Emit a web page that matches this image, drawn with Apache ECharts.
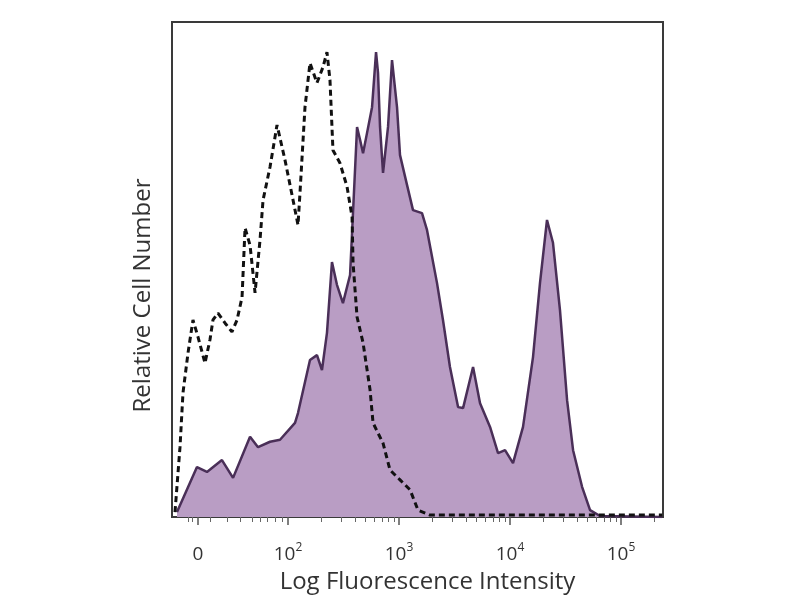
<!DOCTYPE html>
<html>
<head>
<meta charset="utf-8">
<script src="https://cdn.jsdelivr.net/npm/echarts@6/dist/echarts.min.js"></script>
<style>html,body{margin:0;padding:0;background:#fff}#c{width:800px;height:600px}</style>
</head>
<body>
<div id="c"></div>
<script>
// x in display decades (biexponential axis: 0 shown near 1.19, 10^n at n)
const stainedX = [1.000,1.180,1.270,1.405,1.505,1.658,1.730,1.838,1.928,2.063,2.090,2.198,2.261,2.306,2.351,2.396,2.441,2.495,2.559,2.622,2.649,2.676,2.712,2.757,2.793,2.811,2.829,2.856,2.901,2.937,2.982,3.009,3.072,3.126,3.207,3.252,3.342,3.396,3.459,3.532,3.577,3.667,3.730,3.820,3.892,3.955,4.027,4.117,4.207,4.270,4.333,4.387,4.450,4.514,4.568,4.649,4.721,4.811,5.370];
const stainedY = [1.0,10.1,9.1,11.5,7.9,16.2,14.1,15.2,15.6,19.0,21.0,31.7,32.7,29.7,37.2,51.5,46.9,43.2,48.9,78.8,76.2,73.5,77.6,82.8,93.9,89.7,78.8,69.5,78.8,92.3,82.8,73.1,67.1,62.0,61.4,58.0,47.3,39.8,30.3,22.2,22.0,30.3,23.0,18.2,12.9,13.5,10.9,18.2,32.3,47.3,60.0,55.4,41.8,23.6,13.5,6.1,1.4,0.2,0.0];
const controlX = [0.982,1.027,1.054,1.099,1.144,1.189,1.252,1.297,1.324,1.369,1.432,1.495,1.541,1.586,1.613,1.658,1.703,1.748,1.775,1.838,1.901,1.973,2.018,2.090,2.108,2.153,2.198,2.261,2.315,2.351,2.378,2.405,2.468,2.532,2.577,2.586,2.622,2.676,2.739,2.766,2.856,2.919,3.009,3.099,3.171,3.279,5.370];
const controlY = [1.0,14.1,25.1,33.1,39.8,36.4,31.1,35.8,39.8,41.2,39.2,37.4,39.8,44.4,58.4,54.9,45.3,56.0,64.0,70.7,79.2,72.1,67.1,59.0,65.5,82.8,91.7,87.7,90.9,93.9,88.3,74.1,71.5,66.7,60.6,51.3,40.4,35.2,25.7,19.0,14.9,9.5,7.5,5.5,1.4,0.4,0.4];
const majorTicks = [1.189, 2, 3, 4, 5];
const majorLabels = ['0', '10|2', '10|3', '10|4', '10|5'];
const minorTicks = [1.10,1.14,1.297,1.450,1.568,1.676,1.748,1.811,1.883,1.946,
  2.301,2.477,2.602,2.699,2.778,2.845,2.903,2.954,
  3.301,3.477,3.602,3.699,3.778,3.845,3.903,3.954,
  4.301,4.477,4.602,4.699,4.778,4.845,4.903,4.954,5.301];

const pair = (xs, ys) => xs.map((x, i) => [x, ys[i]]);
const chart = echarts.init(document.getElementById('c'));
const FONT = '"Open Sans", "DejaVu Sans", sans-serif';
chart.setOption({
  backgroundColor: '#fff',
  animation: false,
  grid: { left: 172, right: 137, top: 22, bottom: 83, show: true, borderColor: '#3a3a3a', borderWidth: 2, backgroundColor: 'transparent' },
  xAxis: [{
    type: 'value', min: 0.955, max: 5.378,
    name: 'Log Fluorescence Intensity', nameLocation: 'middle', nameGap: 53,
    nameTextStyle: { fontFamily: FONT, fontSize: 24, color: '#333', padding: [0, 0, 0, 20] },
    axisLine: { show: true, lineStyle: { color: '#3a3a3a', width: 2 } },
    splitLine: { show: false },
    axisTick: { show: true, customValues: majorTicks, length: 8, lineStyle: { color: '#555', width: 1.5 } },
    axisLabel: {
      customValues: majorTicks, margin: 25,
      formatter: function (v) {
        let idx = majorTicks.findIndex(t => Math.abs(t - v) < 1e-6);
        if (idx < 0) return '';
        const s = majorLabels[idx];
        if (s.indexOf('|') < 0) return '{b|' + s + '}';
        const p = s.split('|');
        return '{b|' + p[0] + '}{s|' + p[1] + '}';
      },
      rich: {
        b: { fontFamily: FONT, fontSize: 19, color: '#333', lineHeight: 22, verticalAlign: 'bottom' },
        s: { fontFamily: FONT, fontSize: 12, color: '#333', lineHeight: 22, verticalAlign: 'top', padding: [0, 0, 10, 0] }
      }
    }
  }, {
    type: 'value', min: 0.955, max: 5.378, position: 'bottom',
    axisLine: { show: false }, splitLine: { show: false },
    axisLabel: { show: false },
    axisTick: { show: true, customValues: minorTicks, length: 5, lineStyle: { color: '#666', width: 1 } }
  }],
  yAxis: {
    type: 'value', min: 0, max: 100,
    name: 'Relative Cell Number', nameLocation: 'middle', nameGap: 17,
    nameTextStyle: { fontFamily: FONT, fontSize: 24, color: '#333', padding: [0, 52, 0, 0] },
    axisLine: { show: false }, axisTick: { show: false }, axisLabel: { show: false }, splitLine: { show: false }
  },
  series: [{
    type: 'line', data: pair(stainedX, stainedY), symbol: 'none', smooth: false,
    lineStyle: { color: '#4a2f58', width: 2.5 },
    areaStyle: { color: '#b99dc4', opacity: 1 },
    z: 2
  }, {
    type: 'line', data: pair(controlX, controlY), symbol: 'none', smooth: false,
    lineStyle: { color: '#111', width: 3, type: [6, 4] },
    z: 3
  }]
});
</script>
</body>
</html>
